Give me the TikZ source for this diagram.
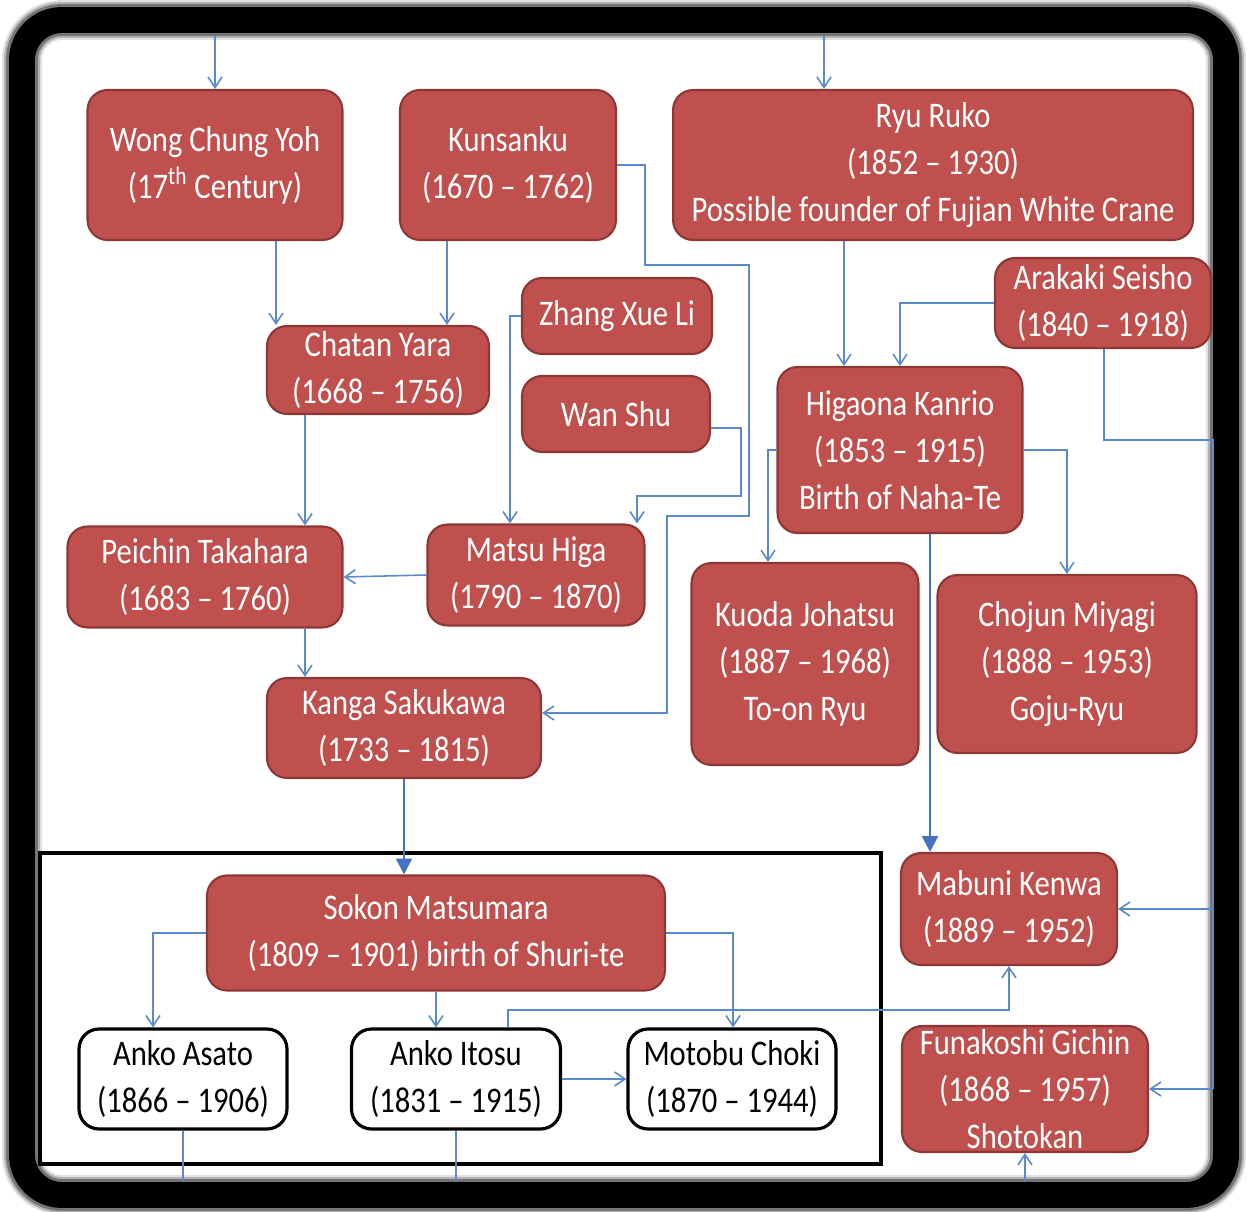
\documentclass[tikz,border=0pt]{standalone}
\usepackage{fontspec}
\setmainfont{Carlito}[FakeStretch=0.85]
\usepackage{tikz}
\usetikzlibrary{arrows.meta}
\definecolor{boxred}{HTML}{C0504D}
\definecolor{boxedge}{HTML}{8C3836}
\definecolor{linkblue}{HTML}{5B8ACB}
\definecolor{mainblue}{HTML}{4472C4}
\tikzset{
  redbox/.style={draw=boxedge, line width=1.2pt, fill=boxred, text=white, rounded corners=0.4cm,
    inner sep=0pt, align=center, font=\fontsize{20.5}{26.7}\selectfont},
  whitebox/.style={draw=black, line width=1.8pt, fill=white, text=black, rounded corners=0.4cm,
    inner sep=0pt, align=center, font=\fontsize{20.5}{26.7}\selectfont},
  link/.style={draw=linkblue, line width=0.9pt, -{Straight Barb[length=6pt,width=8pt]}},
  plainlink/.style={draw=linkblue, line width=0.9pt},
  mainlink/.style={draw=mainblue, line width=1.3pt, -{Triangle[length=9pt,width=9pt]}}
}

\begin{document}
\begin{tikzpicture}[x=0.02cm,y=-0.02cm]
\useasboundingbox (0,0) rectangle (1247,1212);
% frame
\foreach \w/\o in {40/0.12,36/0.2,32/0.35}
  \draw[line width=\w*0.567pt, black, opacity=\o, rounded corners=0.8cm] (22,20) rectangle (1226,1195);
\draw[line width=26*0.567pt, black, rounded corners=0.8cm] (22,20) rectangle (1226,1195);
\coordinate (topA) at (215,36);
\coordinate (topB) at (824,36);
\coordinate (botA) at (183,1182);
\coordinate (botB) at (456,1182);
\coordinate (botC) at (1025,1182);

% masters
\node[redbox, minimum width=5.1cm, minimum height=3cm] (wong) at (215,165) {Wong Chung Yoh\\(17\textsuperscript{th} Century)};
\node[redbox, minimum width=4.32cm, minimum height=3cm] (kunsanku) at (508,165) {Kunsanku\\(1670 -- 1762)};
\node[redbox, minimum width=10.4cm, minimum height=3cm] (ryu) at (933,165) {Ryu Ruko\\(1852 -- 1930)\\Possible founder of Fujian White Crane};
\node[redbox, minimum width=4.32cm, minimum height=1.8cm] (arakaki) at (1103,303) {Arakaki Seisho\\(1840 -- 1918)};
\node[redbox, minimum width=3.8cm, minimum height=1.52cm] (zhang) at (617,316) {Zhang Xue Li};
\node[redbox, minimum width=3.76cm, minimum height=1.52cm] (wanshu) at (616,414) {Wan Shu};
\node[redbox, minimum width=4.44cm, minimum height=1.76cm] (chatan) at (378,370) {Chatan Yara\\(1668 -- 1756)};
\node[redbox, minimum width=4.9cm, minimum height=3.32cm] (higaona) at (900,450) {Higaona Kanrio\\(1853 -- 1915)\\Birth of Naha-Te};
\node[redbox, minimum width=5.5cm, minimum height=2.02cm] (peichin) at (205,577) {Peichin Takahara\\(1683 -- 1760)};
\node[redbox, minimum width=4.34cm, minimum height=2.02cm] (matsu) at (536,575) {Matsu Higa\\(1790 -- 1870)};
\node[redbox, minimum width=4.54cm, minimum height=4.04cm] (kuoda) at (805,664) {Kuoda Johatsu\\(1887 -- 1968)\\To-on Ryu};
\node[redbox, minimum width=5.18cm, minimum height=3.56cm] (chojun) at (1067,664) {Chojun Miyagi\\(1888 -- 1953)\\Goju-Ryu};
\node[redbox, minimum width=5.48cm, minimum height=2cm] (kanga) at (404,728) {Kanga Sakukawa\\(1733 -- 1815)};
\node[redbox, minimum width=4.32cm, minimum height=2.24cm] (mabuni) at (1009,909) {Mabuni Kenwa\\(1889 -- 1952)};
\node[redbox, minimum width=4.92cm, minimum height=2.52cm] (funakoshi) at (1025,1089) {Funakoshi Gichin\\(1868 -- 1957)\\Shotokan};

% shuri-te group
\draw[line width=2pt] (40,853) rectangle (881,1164);
\node[redbox, minimum width=9.16cm, minimum height=2.3cm] (sokon) at (436,933) {Sokon Matsumara\\(1809 -- 1901) birth of Shuri-te};
\node[whitebox, minimum width=4.16cm, minimum height=2cm] (asato) at (183,1079) {Anko Asato\\(1866 -- 1906)};
\node[whitebox, minimum width=4.18cm, minimum height=2cm] (itosu) at (456,1079) {Anko Itosu\\(1831 -- 1915)};
\node[whitebox, minimum width=4.16cm, minimum height=2cm] (motobu) at (732,1079) {Motobu Choki\\(1870 -- 1944)};

% links
\draw[link] (topA) -- (wong.north);
\draw[link] (topB) -- (824,0 |- ryu.north);
\draw[link] (276,0 |- wong.south) -- (276,0 |- chatan.north);
\draw[link] (447,0 |- kunsanku.south) -- (447,0 |- chatan.north);
\draw[link] (kunsanku.east) -- (645,165) -- (645,265) -- (749,265) -- (749,516) -- (667,516) -- (667,713) -- (kanga.east |- 0,713);
\draw[link] (zhang.west) -| (510,0 |- matsu.north);
\draw[link] (wanshu.east |- 0,428) -- (741,428) -- (741,496) -- (637,496) -- (637,0 |- matsu.north);
\draw[link] (matsu.west) -- (peichin.east);
\draw[link] (305,0 |- chatan.south) -- (305,0 |- peichin.north);
\draw[link] (305,0 |- peichin.south) -- (305,0 |- kanga.north);
\draw[mainlink] (kanga.south) -- (sokon.north -| kanga.south);
\draw[link] (844,0 |- ryu.south) -- (844,0 |- higaona.north);
\draw[link] (arakaki.west) -| (higaona.north);
\draw[plainlink] (1104,0 |- arakaki.south) -- (1104,440) -- (1213,440) -- (1213,1089);
\draw[link] (1213,909) -- (mabuni.east);
\draw[link] (1213,1089) -- (funakoshi.east);
\draw[link] (higaona.west) -| (768,0 |- kuoda.north);
\draw[link] (higaona.east) -| (chojun.north);
\draw[mainlink] (930,0 |- higaona.south) -- (930,0 |- mabuni.north);
\draw[link] (sokon.west) -| (153,0 |- asato.north);
\draw[link] (436,0 |- sokon.south) -- (436,0 |- itosu.north);
\draw[link] (sokon.east) -- (733,933) -- (733,0 |- motobu.north);
\draw[link] (508,0 |- itosu.north) -- (508,1010) -- (1009,1010) -- (mabuni.south);
\draw[link] (itosu.east) -- (motobu.west);
\draw[plainlink] (asato.south) -- (botA);
\draw[plainlink] (itosu.south) -- (botB);
\draw[link] (botC) -- (funakoshi.south);
\end{tikzpicture}
\end{document}
